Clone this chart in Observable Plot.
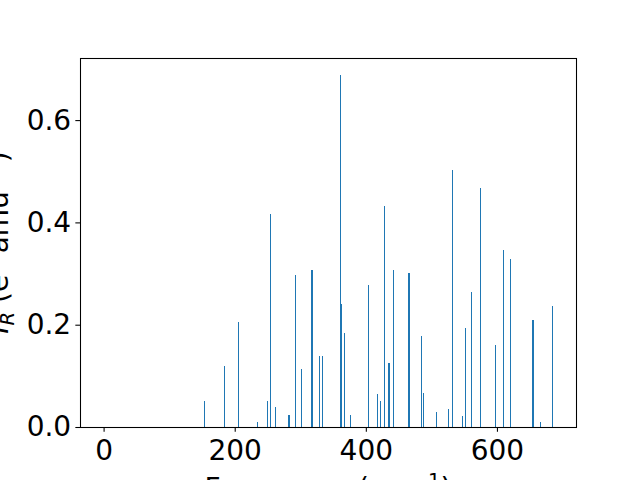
<!DOCTYPE html>
<html>
<head>
<meta charset="utf-8">
<script src="https://cdn.jsdelivr.net/npm/d3@7"></script>
<script src="https://cdn.jsdelivr.net/npm/@observablehq/plot@0.6"></script>
<style>
  html, body { margin: 0; padding: 0; background: white; }
</style>
</head>
<body>
<div id="chart"></div>
<script>
// Mode frequencies (cm^-1) and intensities
const frequencies = [
  153, 183.7, 205, 234, 249, 254, 261.5, 281.5, 283, 292, 301, 316.5, 318,
  328.7, 333, 360.8, 362, 367, 376, 403.5, 417, 422, 428, 434, 435.5, 441.7,
  465, 466.5, 484, 487.5, 507, 525.6, 531.8, 547, 551.6, 560.8, 574.5, 597.4,
  609.6, 620.3, 653.5, 655, 666, 684.4
];
const intensities = [
  0.051, 0.119, 0.205, 0.0098, 0.051, 0.416, 0.039, 0.0235, 0.0235, 0.297, 0.113, 0.307, 0.307,
  0.139, 0.139, 0.688, 0.240, 0.183, 0.0235, 0.278, 0.0645, 0.051, 0.432, 0.125, 0.125, 0.307,
  0.301, 0.301, 0.178, 0.066, 0.029, 0.035, 0.502, 0.0215, 0.193, 0.264, 0.467, 0.160,
  0.346, 0.328, 0.209, 0.209, 0.0098, 0.236
];
const xTicks = [0, 200, 400, 600];
const yTicks = [0, 0.2, 0.4, 0.6];

const data = frequencies.map((f, i) => ({freq: f, inten: intensities[i]}));

const FS = 28;
const svg = Plot.plot({
  width: 640,
  height: 480,
  marginTop: 58,
  marginRight: 64,
  marginBottom: 53,
  marginLeft: 80,
  style: {background: "white", color: "black", fontFamily: "DejaVu Sans", overflow: "hidden"},
  x: {domain: [-36, 720.6]},
  y: {domain: [0, 0.7214]},
  marks: [
    Plot.ruleX(data, {x: "freq", y1: 0, y2: "inten", stroke: "#1f77b4", strokeWidth: 1, shapeRendering: "crispEdges"}),
    Plot.frame({stroke: "black", strokeWidth: 1.07}),
    Plot.axisX({ticks: xTicks, tickFormat: d3.format("d"), tickSize: 4.67, tickPadding: 8, fontSize: FS, label: null, strokeWidth: 1.07}),
    Plot.axisY({ticks: yTicks, tickFormat: d3.format(".1f"), tickSize: 4.67, tickPadding: 4.67, fontSize: FS, label: null, strokeWidth: 1.07})
  ]
});
document.getElementById("chart").appendChild(svg);

const s = d3.select(svg);
// X label
const xl = s.append("text")
  .attr("x", 328).attr("y", 498)
  .attr("text-anchor", "middle")
  .attr("font-family", "DejaVu Sans")
  .attr("font-size", FS)
  .attr("fill", "black");
xl.append("tspan").text("Frequency (cm");
xl.append("tspan").attr("font-size", FS * 0.7).attr("dy", -11).text("\u22121");
xl.append("tspan").attr("dy", 11).text(")");

// Y label
const yl = s.append("text")
  .attr("transform", "translate(8,242.5) rotate(-90)")
  .attr("text-anchor", "middle")
  .attr("font-family", "DejaVu Sans")
  .attr("font-size", FS)
  .attr("fill", "black");
yl.append("tspan").attr("font-style", "italic").text("I");
yl.append("tspan").attr("font-style", "italic").attr("font-size", FS * 0.7).attr("dy", 6).text("R");
yl.append("tspan").attr("dy", -6).text(" (e");
yl.append("tspan").attr("font-size", FS * 0.7).attr("dy", -11).text("2");
yl.append("tspan").attr("dy", 11).text(" amu");
yl.append("tspan").attr("font-size", FS * 0.7).attr("dy", -11).text("\u22121");
yl.append("tspan").attr("dy", 11).text(")");
</script>
</body>
</html>
